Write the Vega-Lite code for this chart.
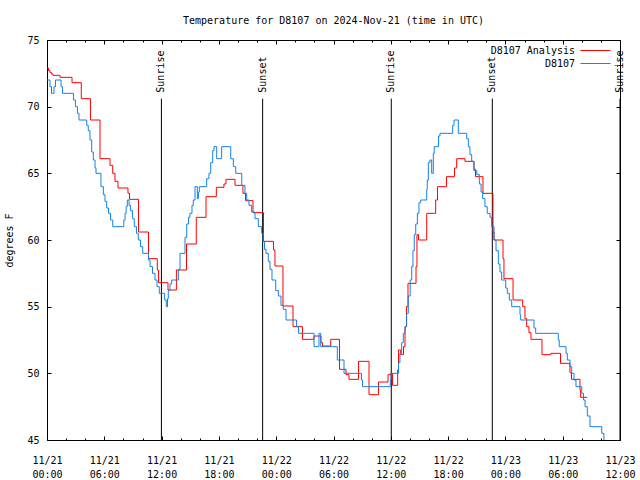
{
  "$schema": "https://vega.github.io/schema/vega-lite/v6.json",
  "width": 573,
  "height": 400,
  "autosize": {"type": "none"},
  "padding": {"left": 47, "top": 40, "right": 20, "bottom": 40},
  "background": "white",
  "title": {"text": "Temperature for D8107 on 2024-Nov-21 (time in UTC)", "font": "DejaVu Sans Mono", "fontSize": 10, "fontWeight": "normal", "color": "black", "offset": 9},
  "config": {
    "view": {"stroke": "black", "strokeWidth": 1},
    "font": "DejaVu Sans Mono",
    "axis": {"grid": false, "domain": false, "tickColor": "black", "labelColor": "black", "labelFont": "DejaVu Sans Mono", "labelFontSize": 10, "titleFont": "DejaVu Sans Mono", "titleFontSize": 10, "titleFontWeight": "normal", "titleColor": "black", "labelFlush": false, "labelOverlap": false}
  },
  "datasets": {
    "obs": [
      {"hour": 0.00, "temp": 72.0}, {"hour": 0.31, "temp": 71.5}, {"hour": 0.47, "temp": 71.0}, {"hour": 0.73, "temp": 71.5}, {"hour": 0.89, "temp": 72.0},
      {"hour": 1.47, "temp": 71.5}, {"hour": 1.62, "temp": 71.0}, {"hour": 2.77, "temp": 70.5}, {"hour": 2.98, "temp": 70.0}, {"hour": 3.19, "temp": 69.5},
      {"hour": 3.35, "temp": 69.0}, {"hour": 4.16, "temp": 68.6}, {"hour": 4.32, "temp": 68.2}, {"hour": 4.50, "temp": 67.5}, {"hour": 4.68, "temp": 66.6},
      {"hour": 4.85, "temp": 66.0}, {"hour": 5.03, "temp": 65.4}, {"hour": 5.13, "temp": 65.0}, {"hour": 5.65, "temp": 64.0}, {"hour": 5.90, "temp": 63.4},
      {"hour": 6.07, "temp": 62.9}, {"hour": 6.25, "temp": 62.4}, {"hour": 6.44, "temp": 62.0}, {"hour": 6.65, "temp": 61.5}, {"hour": 6.88, "temp": 61.0},
      {"hour": 8.04, "temp": 61.5}, {"hour": 8.17, "temp": 62.0}, {"hour": 8.29, "temp": 62.5}, {"hour": 8.41, "temp": 63.0}, {"hour": 8.59, "temp": 62.6},
      {"hour": 8.74, "temp": 62.2}, {"hour": 8.95, "temp": 61.6}, {"hour": 9.14, "temp": 61.0}, {"hour": 9.37, "temp": 60.5}, {"hour": 9.56, "temp": 60.0},
      {"hour": 9.79, "temp": 59.5}, {"hour": 10.02, "temp": 59.0}, {"hour": 10.63, "temp": 58.5}, {"hour": 10.79, "temp": 58.0}, {"hour": 11.05, "temp": 57.5},
      {"hour": 11.31, "temp": 57.0}, {"hour": 11.52, "temp": 56.5}, {"hour": 11.76, "temp": 56.0}, {"hour": 12.32, "temp": 55.5}, {"hour": 12.49, "temp": 55.0},
      {"hour": 12.62, "temp": 55.6}, {"hour": 12.70, "temp": 56.2}, {"hour": 12.88, "temp": 56.7}, {"hour": 13.06, "temp": 57.0}, {"hour": 13.75, "temp": 57.8},
      {"hour": 13.93, "temp": 59.0}, {"hour": 14.45, "temp": 60.2}, {"hour": 14.63, "temp": 61.2}, {"hour": 14.82, "temp": 61.7}, {"hour": 14.97, "temp": 62.0},
      {"hour": 15.18, "temp": 62.6}, {"hour": 15.32, "temp": 63.0}, {"hour": 15.50, "temp": 64.0}, {"hour": 15.74, "temp": 63.1}, {"hour": 15.86, "temp": 63.6},
      {"hour": 15.95, "temp": 64.0}, {"hour": 16.72, "temp": 64.6}, {"hour": 16.96, "temp": 65.0}, {"hour": 17.14, "temp": 65.8}, {"hour": 17.35, "temp": 66.7},
      {"hour": 17.49, "temp": 67.0}, {"hour": 17.77, "temp": 66.1}, {"hour": 18.29, "temp": 67.0}, {"hour": 19.24, "temp": 66.1}, {"hour": 19.51, "temp": 65.5},
      {"hour": 19.76, "temp": 65.0}, {"hour": 20.39, "temp": 64.1}, {"hour": 20.73, "temp": 63.5}, {"hour": 20.91, "temp": 63.0}, {"hour": 21.15, "temp": 62.6},
      {"hour": 21.43, "temp": 62.1}, {"hour": 21.78, "temp": 61.6}, {"hour": 22.13, "temp": 61.0}, {"hour": 22.48, "temp": 60.5}, {"hour": 22.62, "temp": 59.9},
      {"hour": 22.77, "temp": 59.3}, {"hour": 22.93, "temp": 59.0}, {"hour": 23.17, "temp": 58.4}, {"hour": 23.35, "temp": 57.8}, {"hour": 23.56, "temp": 57.0},
      {"hour": 23.95, "temp": 56.2}, {"hour": 24.23, "temp": 55.8}, {"hour": 24.50, "temp": 55.1}, {"hour": 24.74, "temp": 54.8}, {"hour": 25.03, "temp": 54.0},
      {"hour": 26.13, "temp": 53.5}, {"hour": 26.34, "temp": 53.0}, {"hour": 27.96, "temp": 52.0}, {"hour": 28.48, "temp": 53.0}, {"hour": 28.66, "temp": 52.0},
      {"hour": 30.40, "temp": 51.0}, {"hour": 31.10, "temp": 50.0}, {"hour": 32.93, "temp": 49.5}, {"hour": 33.04, "temp": 49.0}, {"hour": 35.95, "temp": 49.5},
      {"hour": 36.02, "temp": 50.0}, {"hour": 36.81, "temp": 50.8}, {"hour": 36.96, "temp": 51.5}, {"hour": 37.14, "temp": 52.3}, {"hour": 37.31, "temp": 53.0},
      {"hour": 37.49, "temp": 53.5}, {"hour": 37.66, "temp": 54.5}, {"hour": 37.83, "temp": 55.8}, {"hour": 38.03, "temp": 57.0}, {"hour": 38.19, "temp": 58.0},
      {"hour": 38.32, "temp": 59.2}, {"hour": 38.46, "temp": 60.4}, {"hour": 38.61, "temp": 61.2}, {"hour": 38.78, "temp": 62.0}, {"hour": 38.95, "temp": 62.8},
      {"hour": 39.13, "temp": 63.0}, {"hour": 39.76, "temp": 63.8}, {"hour": 39.82, "temp": 64.5}, {"hour": 39.93, "temp": 65.8}, {"hour": 40.10, "temp": 66.0},
      {"hour": 40.28, "temp": 65.0}, {"hour": 40.45, "temp": 66.5}, {"hour": 40.55, "temp": 67.0}, {"hour": 41.00, "temp": 67.8}, {"hour": 41.15, "temp": 68.0},
      {"hour": 42.48, "temp": 68.6}, {"hour": 42.62, "temp": 69.0}, {"hour": 43.07, "temp": 68.0}, {"hour": 43.95, "temp": 67.6}, {"hour": 44.12, "temp": 67.0},
      {"hour": 44.29, "temp": 66.4}, {"hour": 44.47, "temp": 65.9}, {"hour": 44.71, "temp": 65.2}, {"hour": 45.00, "temp": 64.9}, {"hour": 45.27, "temp": 64.2},
      {"hour": 45.45, "temp": 63.6}, {"hour": 45.62, "temp": 63.1}, {"hour": 45.86, "temp": 62.5}, {"hour": 46.10, "temp": 62.0}, {"hour": 46.39, "temp": 61.7},
      {"hour": 46.56, "temp": 61.0}, {"hour": 46.81, "temp": 60.0}, {"hour": 47.02, "temp": 59.2}, {"hour": 47.26, "temp": 58.2}, {"hour": 47.43, "temp": 57.6},
      {"hour": 47.61, "temp": 57.0}, {"hour": 48.03, "temp": 56.4}, {"hour": 48.20, "temp": 56.0}, {"hour": 48.41, "temp": 55.5}, {"hour": 48.66, "temp": 55.0},
      {"hour": 49.53, "temp": 54.4}, {"hour": 49.60, "temp": 54.0}, {"hour": 50.99, "temp": 53.4}, {"hour": 51.17, "temp": 53.0}, {"hour": 53.54, "temp": 52.5},
      {"hour": 53.64, "temp": 52.0}, {"hour": 54.35, "temp": 51.5}, {"hour": 54.48, "temp": 51.0}, {"hour": 54.76, "temp": 50.5}, {"hour": 54.94, "temp": 50.0},
      {"hour": 55.18, "temp": 49.5}, {"hour": 55.39, "temp": 49.0}, {"hour": 55.99, "temp": 48.5}, {"hour": 56.18, "temp": 48.0}, {"hour": 56.34, "temp": 47.5},
      {"hour": 56.58, "temp": 46.8}, {"hour": 56.86, "temp": 46.0}, {"hour": 58.09, "temp": 45.5}, {"hour": 58.32, "temp": 45.0}
    ],
    "ana": [
      {"hour": 0.00, "temp": 72.9}, {"hour": 0.16, "temp": 72.7}, {"hour": 0.31, "temp": 72.55}, {"hour": 0.47, "temp": 72.45}, {"hour": 0.63, "temp": 72.35},
      {"hour": 1.36, "temp": 72.2}, {"hour": 2.62, "temp": 71.8}, {"hour": 3.59, "temp": 70.6}, {"hour": 4.55, "temp": 69.0}, {"hour": 5.55, "temp": 66.1},
      {"hour": 6.60, "temp": 65.6}, {"hour": 6.88, "temp": 65.0}, {"hour": 7.12, "temp": 64.4}, {"hour": 7.43, "temp": 63.9}, {"hour": 8.48, "temp": 63.5},
      {"hour": 8.64, "temp": 63.05}, {"hour": 9.58, "temp": 60.6}, {"hour": 10.63, "temp": 58.6}, {"hour": 11.55, "temp": 57.75}, {"hour": 11.68, "temp": 56.8},
      {"hour": 12.67, "temp": 56.25}, {"hour": 13.55, "temp": 57.75}, {"hour": 14.61, "temp": 59.7}, {"hour": 15.63, "temp": 61.7}, {"hour": 16.65, "temp": 63.25},
      {"hour": 17.73, "temp": 63.95}, {"hour": 18.53, "temp": 64.2}, {"hour": 18.74, "temp": 64.55}, {"hour": 19.69, "temp": 64.1}, {"hour": 20.52, "temp": 63.5},
      {"hour": 20.79, "temp": 62.95}, {"hour": 21.57, "temp": 62.05}, {"hour": 22.67, "temp": 59.9}, {"hour": 23.72, "temp": 59.25}, {"hour": 23.87, "temp": 58.05},
      {"hour": 24.71, "temp": 55.05}, {"hour": 25.76, "temp": 53.5}, {"hour": 26.75, "temp": 52.55}, {"hour": 27.96, "temp": 52.8}, {"hour": 28.69, "temp": 52.3},
      {"hour": 28.85, "temp": 52.05}, {"hour": 29.71, "temp": 52.55}, {"hour": 30.63, "temp": 50.3}, {"hour": 31.31, "temp": 49.9}, {"hour": 31.62, "temp": 49.55},
      {"hour": 32.62, "temp": 50.9}, {"hour": 33.72, "temp": 48.4}, {"hour": 34.71, "temp": 49.35}, {"hour": 35.71, "temp": 49.9}, {"hour": 35.97, "temp": 50.0},
      {"hour": 36.18, "temp": 49.1}, {"hour": 36.72, "temp": 50.25}, {"hour": 36.81, "temp": 51.75}, {"hour": 37.04, "temp": 51.4}, {"hour": 37.33, "temp": 52.0},
      {"hour": 37.49, "temp": 53.5}, {"hour": 37.64, "temp": 55.0}, {"hour": 37.80, "temp": 56.75}, {"hour": 38.64, "temp": 58.0}, {"hour": 38.74, "temp": 60.4},
      {"hour": 38.90, "temp": 60.0}, {"hour": 39.76, "temp": 62.0}, {"hour": 40.70, "temp": 63.0}, {"hour": 40.89, "temp": 64.0}, {"hour": 41.83, "temp": 64.75},
      {"hour": 42.67, "temp": 65.4}, {"hour": 42.90, "temp": 66.1}, {"hour": 43.77, "temp": 65.9}, {"hour": 44.71, "temp": 65.3}, {"hour": 44.87, "temp": 64.75},
      {"hour": 45.65, "temp": 63.5}, {"hour": 46.70, "temp": 60.6}, {"hour": 46.81, "temp": 60.0}, {"hour": 47.75, "temp": 58.6}, {"hour": 47.85, "temp": 57.1},
      {"hour": 48.80, "temp": 55.5}, {"hour": 49.81, "temp": 55.0}, {"hour": 50.05, "temp": 54.1}, {"hour": 50.23, "temp": 53.5}, {"hour": 50.47, "temp": 53.05},
      {"hour": 50.68, "temp": 52.55}, {"hour": 51.83, "temp": 51.4}, {"hour": 52.77, "temp": 51.5}, {"hour": 53.77, "temp": 50.75}, {"hour": 54.76, "temp": 50.05},
      {"hour": 54.92, "temp": 49.55}, {"hour": 55.81, "temp": 48.75}, {"hour": 55.88, "temp": 48.2}, {"hour": 56.58, "temp": 48.2}
    ],
    "sun": [
      {"hour": 11.98, "label": "Sunrise"},
      {"hour": 22.58, "label": "Sunset"},
      {"hour": 36.05, "label": "Sunrise"},
      {"hour": 46.63, "label": "Sunset"},
      {"hour": 60.0, "label": "Sunrise"}
    ]
  },
  "layer": [
    {
      "data": {"name": "sun"},
      "mark": {"type": "rule", "color": "black", "strokeWidth": 1},
      "encoding": {
        "x": {"field": "hour", "type": "quantitative", "scale": {"domain": [0, 60], "nice": false, "zero": false},
              "axis": {"orient": "top", "values": [0, 6, 12, 18, 24, 30, 36, 42, 48, 54, 60], "tickSize": -4, "labels": false, "title": null}},
        "y": {"datum": 45, "type": "quantitative", "scale": {"domain": [45, 75], "nice": false, "zero": false}, "axis": null},
        "y2": {"datum": 70.6}
      }
    },
    {
      "data": {"name": "sun"},
      "mark": {"type": "text", "angle": 270, "align": "left", "baseline": "middle", "font": "DejaVu Sans Mono", "fontSize": 10, "color": "black"},
      "encoding": {
        "x": {"field": "hour", "type": "quantitative", "scale": {"domain": [0, 60], "nice": false, "zero": false},
              "axis": {"orient": "top", "values": [2, 4, 8, 10, 14, 16, 20, 22, 26, 28, 32, 34, 38, 40, 44, 46, 50, 52, 56, 58], "tickSize": -2, "labels": false, "title": null}},
        "y": {"datum": 71.05, "type": "quantitative", "scale": {"domain": [45, 75], "nice": false, "zero": false}, "axis": null},
        "text": {"field": "label"}
      }
    },
    {
      "data": {"name": "ana"},
      "mark": {"type": "line", "interpolate": "step-after", "strokeWidth": 1},
      "encoding": {
        "x": {"field": "hour", "type": "quantitative", "scale": {"domain": [0, 60], "nice": false, "zero": false},
              "axis": {"orient": "bottom", "values": [2, 4, 8, 10, 14, 16, 20, 22, 26, 28, 32, 34, 38, 40, 44, 46, 50, 52, 56, 58], "tickSize": -2, "labels": false, "title": null}},
        "y": {"field": "temp", "type": "quantitative", "scale": {"domain": [45, 75], "nice": false, "zero": false},
              "axis": {"orient": "right", "values": [45, 50, 55, 60, 65, 70, 75], "tickSize": -4, "labels": false, "title": null}},
        "color": {"datum": "D8107 Analysis", "type": "nominal",
                  "scale": {"domain": ["D8107 Analysis", "D8107"], "range": ["#ff0000", "#1482e8"]},
                  "legend": {"orient": "none", "legendX": 452, "legendY": 4, "title": null, "symbolType": "M-2.5,0H2.5", "symbolSize": 144, "symbolStrokeWidth": 1, "rowPadding": 1, "symbolOffset": 90, "labelOffset": -27, "labelAlign": "right", "labelBaseline": "middle", "labelFont": "DejaVu Sans Mono", "labelFontSize": 10, "labelColor": "black", "padding": 0}}
      }
    },
    {
      "data": {"name": "obs"},
      "mark": {"type": "line", "interpolate": "step-after", "strokeWidth": 1},
      "encoding": {
        "x": {"field": "hour", "type": "quantitative", "scale": {"domain": [0, 60], "nice": false, "zero": false},
              "axis": {"orient": "bottom", "values": [0, 6, 12, 18, 24, 30, 36, 42, 48, 54, 60], "tickSize": -4, "labelPadding": 19, "labelLineHeight": 14.6, "labelAlign": "center", "labelBaseline": "top", "title": null,
                       "labelExpr": "['11/' + (21 + floor(datum.value / 24)), (datum.value % 24 < 10 ? '0' : '') + (datum.value % 24) + ':00']"}},
        "y": {"field": "temp", "type": "quantitative", "scale": {"domain": [45, 75], "nice": false, "zero": false},
              "axis": {"orient": "left", "values": [45, 50, 55, 60, 65, 70, 75], "tickSize": -4, "labelPadding": 12, "labelBaseline": "middle", "title": "degrees F", "titlePadding": 12}},
        "color": {"datum": "D8107", "type": "nominal"}
      }
    }
  ],
  "resolve": {"axis": {"x": "independent", "y": "independent"}}
}
